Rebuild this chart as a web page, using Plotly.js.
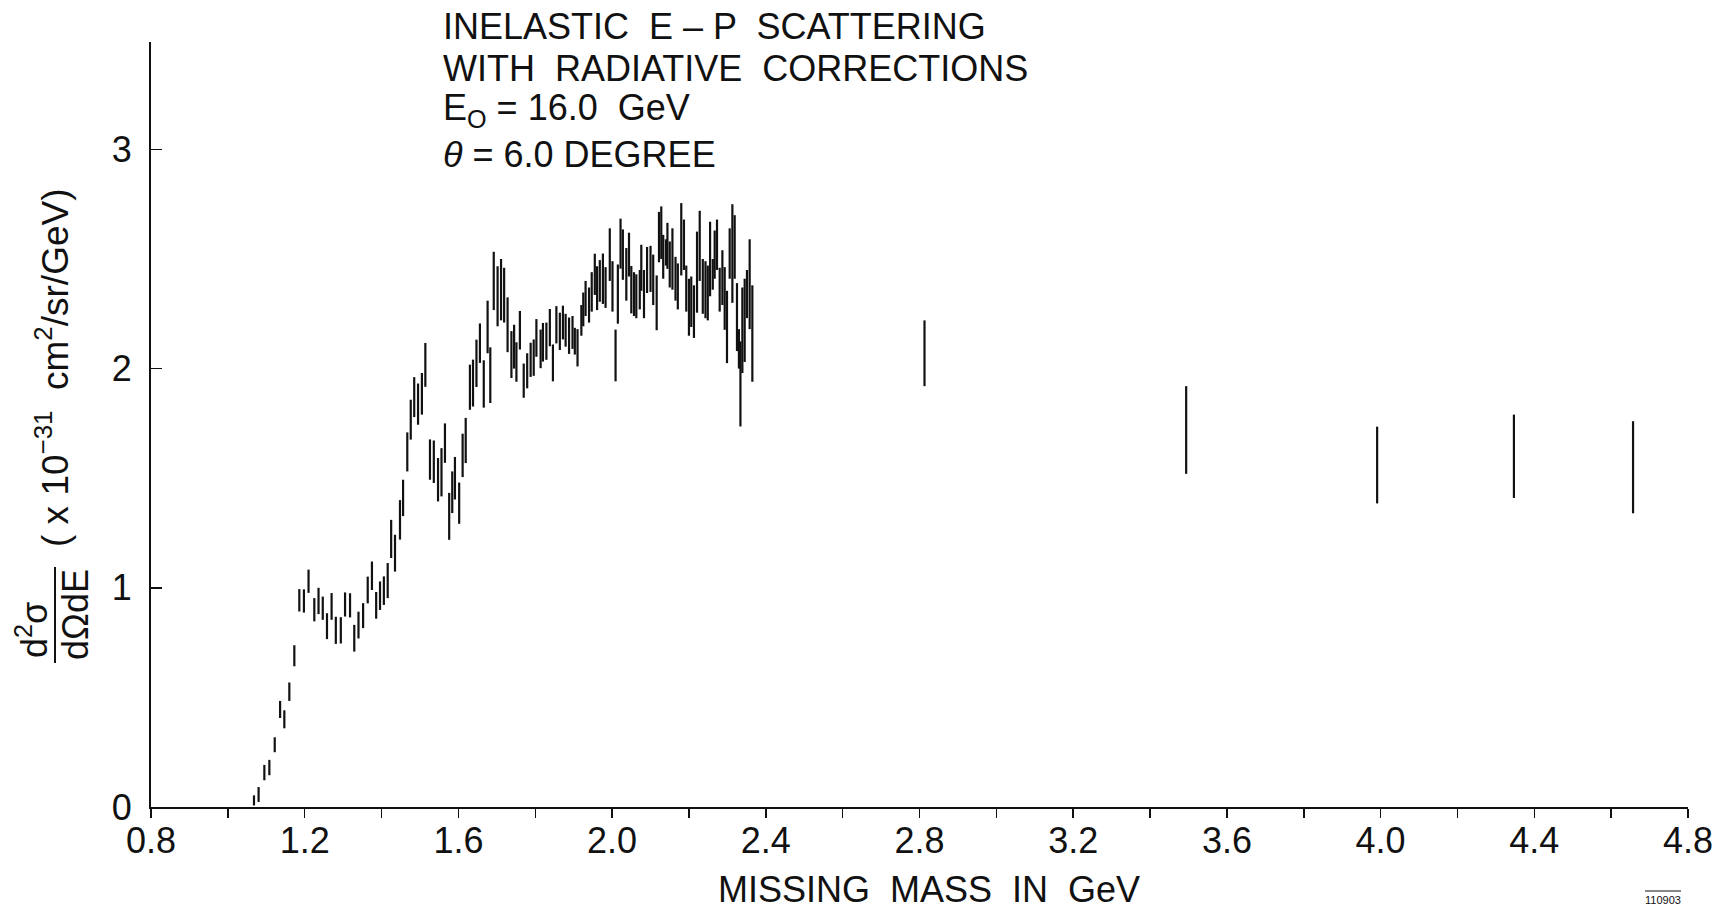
<!DOCTYPE html>
<html>
<head>
<meta charset="utf-8">
<script src="https://cdn.plot.ly/plotly-3.0.1.min.js"></script>
<style>
  html, body { margin: 0; padding: 0; background: #fff; }
  #chart { width: 1729px; height: 911px; }
</style>
</head>
<body>
<div id="chart"></div>
<script>
// Missing mass W (GeV)
const missingMass = [
  1.068, 1.080, 1.095, 1.108, 1.122, 1.136, 1.147, 1.160, 1.173, 1.186,
  1.198, 1.210, 1.225, 1.236, 1.247, 1.258, 1.270, 1.281, 1.294, 1.305,
  1.318, 1.329, 1.340, 1.352, 1.364, 1.375, 1.386, 1.396, 1.406, 1.416,
  1.425, 1.435, 1.448, 1.456, 1.467, 1.476, 1.485, 1.495, 1.505, 1.514,
  1.526, 1.536, 1.547, 1.556, 1.565, 1.576, 1.584, 1.591, 1.602, 1.611,
  1.619, 1.630, 1.638, 1.647, 1.656, 1.666, 1.676, 1.683, 1.692, 1.702,
  1.711, 1.719, 1.728, 1.738, 1.745, 1.751, 1.760, 1.770, 1.779, 1.788,
  1.796, 1.803, 1.814, 1.820, 1.829, 1.838, 1.846, 1.855, 1.864, 1.872,
  1.879, 1.888, 1.897, 1.903, 1.910, 1.920, 1.925, 1.931, 1.940, 1.947,
  1.955, 1.961, 1.968, 1.976, 1.983, 1.994, 2.001, 2.009, 2.015, 2.022,
  2.028, 2.037, 2.044, 2.050, 2.057, 2.063, 2.072, 2.076, 2.083, 2.091,
  2.100, 2.107, 2.116, 2.122, 2.128, 2.133, 2.140, 2.144, 2.150, 2.157,
  2.165, 2.171, 2.180, 2.187, 2.193, 2.200, 2.206, 2.213, 2.221, 2.228,
  2.236, 2.243, 2.249, 2.255, 2.262, 2.267, 2.273, 2.280, 2.287, 2.293,
  2.299, 2.306, 2.313, 2.319, 2.325, 2.330, 2.334, 2.339, 2.345, 2.351,
  2.358, 2.365,
  2.813, 3.494, 3.991, 4.347, 4.657
];

// d2sigma/dOmega dE  (x 1e-31 cm^2/sr/GeV)
const crossSection = [
  0.030, 0.057, 0.157, 0.180, 0.284, 0.445, 0.400, 0.526, 0.690, 0.943,
  0.940, 1.030, 0.900, 0.940, 0.907, 0.825, 0.915, 0.806, 0.806, 0.924,
  0.920, 0.770, 0.830, 0.873, 0.990, 1.055, 0.920, 0.964, 0.987, 1.033,
  1.223, 1.158, 1.310, 1.410, 1.620, 1.767, 1.870, 1.838, 1.885, 2.017,
  1.585, 1.575, 1.493, 1.527, 1.660, 1.326, 1.436, 1.500, 1.386, 1.604,
  1.672, 1.915, 1.934, 2.024, 2.116, 1.930, 2.190, 1.970, 2.400, 2.330,
  2.360, 2.335, 2.200, 2.064, 2.100, 2.030, 2.175, 1.945, 1.990, 2.040,
  2.050, 2.140, 2.090, 2.120, 2.125, 2.187, 2.026, 2.200, 2.170, 2.210,
  2.175, 2.150, 2.165, 2.125, 2.095, 2.220, 2.270, 2.320, 2.290, 2.350,
  2.430, 2.367, 2.400, 2.410, 2.370, 2.520, 2.375, 2.060, 2.340, 2.570,
  2.520, 2.430, 2.520, 2.360, 2.340, 2.330, 2.360, 2.460, 2.340, 2.450,
  2.455, 2.405, 2.300, 2.600, 2.620, 2.510, 2.530, 2.560, 2.475, 2.500,
  2.410, 2.375, 2.590, 2.565, 2.365, 2.280, 2.305, 2.260, 2.440, 2.560,
  2.375, 2.360, 2.345, 2.500, 2.430, 2.520, 2.565, 2.360, 2.415, 2.320,
  2.190, 2.525, 2.525, 2.555, 2.235, 2.090, 1.930, 2.175, 2.220, 2.340,
  2.385, 2.160,
  2.070, 1.720, 1.560, 1.600, 1.550
];

// symmetric error (same units)
const errorBar = [
  0.023, 0.034, 0.035, 0.035, 0.034, 0.039, 0.041, 0.042, 0.048, 0.051,
  0.053, 0.053, 0.053, 0.060, 0.053, 0.059, 0.061, 0.062, 0.060, 0.055,
  0.055, 0.061, 0.061, 0.057, 0.061, 0.065, 0.061, 0.065, 0.065, 0.080,
  0.087, 0.084, 0.090, 0.083, 0.089, 0.091, 0.091, 0.094, 0.095, 0.100,
  0.092, 0.097, 0.099, 0.110, 0.090, 0.107, 0.095, 0.097, 0.094, 0.099,
  0.103, 0.103, 0.107, 0.108, 0.090, 0.108, 0.120, 0.127, 0.133, 0.137,
  0.140, 0.125, 0.125, 0.107, 0.100, 0.090, 0.088, 0.078, 0.080, 0.078,
  0.083, 0.086, 0.088, 0.088, 0.085, 0.085, 0.084, 0.085, 0.085, 0.077,
  0.075, 0.083, 0.075, 0.061, 0.085, 0.070, 0.077, 0.080, 0.080, 0.090,
  0.094, 0.100, 0.095, 0.115, 0.093, 0.120, 0.115, 0.118, 0.135, 0.114,
  0.115, 0.120, 0.100, 0.108, 0.100, 0.100, 0.090, 0.105, 0.110, 0.105,
  0.105, 0.115, 0.125, 0.115, 0.120, 0.100, 0.060, 0.105, 0.105, 0.140,
  0.100, 0.105, 0.165, 0.115, 0.105, 0.130, 0.115, 0.120, 0.185, 0.160,
  0.125, 0.130, 0.125, 0.170, 0.070, 0.110, 0.115, 0.100, 0.125, 0.143,
  0.165, 0.115, 0.225, 0.145, 0.155, 0.090, 0.194, 0.195, 0.190, 0.110,
  0.205, 0.220,
  0.150, 0.200, 0.175, 0.190, 0.210
];

const xTickVals = [0.8, 1.2, 1.6, 2.0, 2.4, 2.8, 3.2, 3.6, 4.0, 4.4, 4.8];
const xTickText = ['0.8', '1.2', '1.6', '2.0', '2.4', '2.8', '3.2', '3.6', '4.0', '4.4', '4.8'];
const yTickVals = [0, 1, 2, 3];
const yTickText = ['0', '1', '2', '3'];

const titleLines = [
  'INELASTIC  E – P  SCATTERING',
  'WITH  RADIATIVE  CORRECTIONS',
  'E<sub>O</sub> = 16.0  GeV',
  '<i>θ</i> = 6.0 DEGREE'
];

const FONT = 'Liberation Sans, Arial, sans-serif';
const INK = '#111111';

const trace = {
  type: 'scatter',
  mode: 'markers',
  x: missingMass,
  y: crossSection,
  marker: { size: 2, color: 'rgba(0,0,0,0)' },
  error_y: {
    type: 'data',
    array: errorBar,
    visible: true,
    color: INK,
    thickness: 2.2,
    width: 0
  },
  hoverinfo: 'x+y',
  showlegend: false
};

// plot-area geometry (px) used to place decorations in paper coords
const L = 151, T = 42, W = 1537, H = 765;
const px = X => (X - L) / W;
const py = Y => (T + H - Y) / H;

const titleY = [26, 68, 110, 154];
const annotations = titleLines.map((t, i) => ({
  xref: 'paper', yref: 'paper',
  x: px(441), y: py(titleY[i]),
  xanchor: 'left', yanchor: 'middle',
  text: t, showarrow: false,
  font: { family: FONT, size: 36, color: INK }
}));

annotations.push(
  { xref: 'paper', yref: 'paper', x: px(929), y: py(889),
    xanchor: 'center', yanchor: 'middle', showarrow: false,
    text: 'MISSING  MASS  IN  GeV',
    font: { family: FONT, size: 36, color: INK } },
  { xref: 'paper', yref: 'paper', x: px(32), y: py(630),
    xanchor: 'center', yanchor: 'middle', showarrow: false, textangle: -90,
    text: 'd<sup>2</sup>σ',
    font: { family: FONT, size: 36, color: INK } },
  { xref: 'paper', yref: 'paper', x: px(75), y: py(615),
    xanchor: 'center', yanchor: 'middle', showarrow: false, textangle: -90,
    text: 'dΩdE',
    font: { family: FONT, size: 36, color: INK } },
  { xref: 'paper', yref: 'paper', x: px(52), y: py(368),
    xanchor: 'center', yanchor: 'middle', showarrow: false, textangle: -90,
    text: '( x 10<sup>−31</sup>  cm<sup>2</sup>/sr/GeV)',
    font: { family: FONT, size: 37, color: INK } },
  { xref: 'paper', yref: 'paper', x: px(1663), y: py(900),
    xanchor: 'center', yanchor: 'middle', showarrow: false,
    text: '110903',
    font: { family: FONT, size: 11, color: INK } }
);

const shapes = [
  { type: 'line', xref: 'paper', yref: 'paper',
    x0: px(55), x1: px(55), y0: py(567), y1: py(663),
    line: { color: INK, width: 2 } },
  { type: 'line', xref: 'paper', yref: 'paper',
    x0: px(1645), x1: px(1681), y0: py(891), y1: py(891),
    line: { color: INK, width: 1 } }
];

const layout = {
  width: 1729, height: 911,
  margin: { l: L, r: 1729 - L - W, t: T, b: 911 - T - H },
  paper_bgcolor: '#ffffff',
  plot_bgcolor: '#ffffff',
  font: { family: FONT, color: INK },
  showlegend: false,
  xaxis: {
    range: [0.8, 4.8],
    tickmode: 'array', tickvals: xTickVals, ticktext: xTickText,
    ticks: 'outside', ticklen: 9, tickwidth: 1.5, tickcolor: INK,
    minor: { dtick: 0.2, tick0: 0.8, ticks: 'outside', ticklen: 9, tickwidth: 1.5, tickcolor: INK, showgrid: false },
    showline: true, linecolor: INK, linewidth: 2,
    showgrid: false, zeroline: false,
    tickfont: { family: FONT, size: 36, color: INK },
    ticklabelstandoff: -8
  },
  yaxis: {
    range: [0, 3.49],
    tickmode: 'array', tickvals: yTickVals, ticktext: yTickText,
    ticks: 'inside', ticklen: 11, tickwidth: 1.5, tickcolor: INK,
    showline: true, linecolor: INK, linewidth: 2,
    showgrid: false, zeroline: false,
    tickfont: { family: FONT, size: 36, color: INK },
    ticklabelstandoff: 10
  },
  annotations: annotations,
  shapes: shapes
};

Plotly.newPlot('chart', [trace], layout, { displayModeBar: false, staticPlot: true });
</script>
</body>
</html>
